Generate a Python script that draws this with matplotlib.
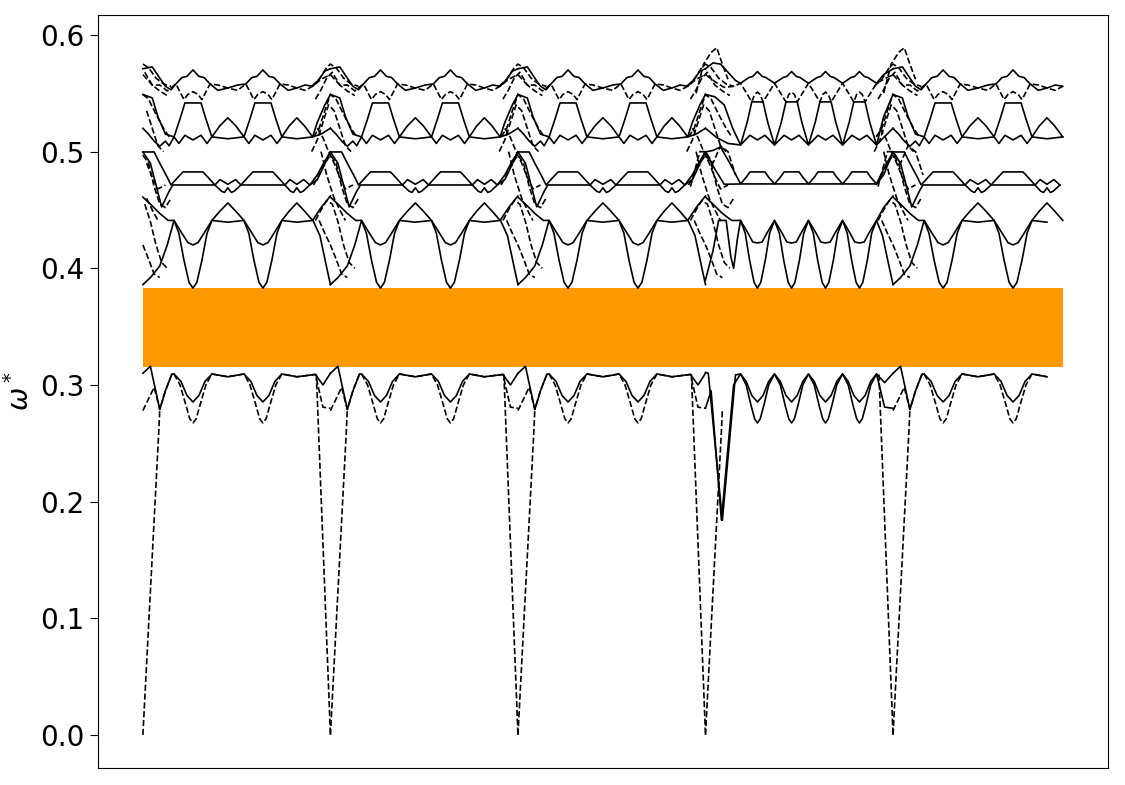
import matplotlib
matplotlib.use("Agg")
import matplotlib.pyplot as plt

# k-path: five segments, the last one is shorter
seg_lengths = [1.0, 1.0, 1.0, 1.0, 0.905]
seg_kinds = ["plain", "plain", "plain", "wide", "plain"]
gap_bottom, gap_top = 0.3155, 0.383
yticks = [0.0, 0.1, 0.2, 0.3, 0.4, 0.5, 0.6]

# ---- plain segment (u = position inside the segment, 0..1) ----
PLAIN_A_TOP = [(0, .310), (.04, .316), (.09, .279), (.12, .295), (.155, .3094),
               (.166, .3094), (.203, .303), (.235, .291), (.267, .2854), (.299, .291), (.331, .303), (.368, .3094),
               (.453, .307), (.539, .3094),
               (.576, .303), (.608, .291), (.640, .2854), (.672, .291), (.704, .303), (.741, .3094),
               (.821, .307), (.92, .309), (.96, .300), (1.0, .310)]
PLAIN_A_LOW = [(0, .278), (.06, .298), (.09, .279), (.12, .295), (.155, .3094),
               (.166, .3094), (.198, .300), (.229, .283), (.250, .271), (.267, .2674), (.284, .271), (.305, .283), (.336, .300), (.368, .3094),
               (.453, .307), (.539, .3094),
               (.571, .300), (.602, .283), (.623, .271), (.640, .2674), (.657, .271), (.678, .283), (.709, .300), (.741, .3094),
               (.821, .307), (.92, .309), (.96, .281), (1.0, .280)]
PLAIN_C_LOW = [(0, .386), (.04, .392), (.09, .402), (.13, .420), (.166, .441),
               (.192, .430), (.219, .407), (.246, .388), (.267, .383), (.288, .388), (.315, .407), (.342, .430), (.368, .441),
               (.453, .4395), (.539, .441),
               (.565, .430), (.592, .407), (.619, .388), (.640, .383), (.661, .388), (.688, .407), (.715, .430), (.741, .441),
               (.821, .4395), (.907, .441), (.944, .428), (.981, .400), (1.0, .386)]
PLAIN_C_MID = [(0, .461), (.04, .455), (.09, .447), (.135, .441), (.166, .441),
               (.208, .430), (.240, .422), (.267, .420), (.294, .422), (.326, .430), (.368, .441),
               (.411, .449), (.453, .456), (.495, .449), (.539, .441),
               (.582, .430), (.613, .422), (.640, .420), (.667, .422), (.699, .430), (.741, .441),
               (.780, .449), (.821, .456), (.862, .449), (.905, .441),
               (.950, .452), (1.0, .462)]
PLAIN_B_UP = [(0, .4997), (.06, .4997), (.09, .490), (.13, .478), (.150, .4714),
              (.187, .478), (.214, .4826), (.320, .4826), (.347, .478), (.384, .4714),
              (.411, .476), (.453, .472), (.495, .476), (.523, .4714),
              (.560, .478), (.587, .4826), (.693, .4826), (.720, .478), (.757, .4714),
              (.784, .476), (.821, .472), (.858, .476), (.890, .4714),
              (.930, .480), (.970, .492), (1.0, .4997)]
PLAIN_B_LOW = [(0, .4997), (.04, .490), (.08, .465), (.10, .4526), (.14, .466), (.16, .4714),
               (.384, .4714), (.420, .466), (.435, .465), (.453, .469), (.471, .465), (.486, .466), (.523, .4714),
               (.757, .4714), (.788, .466), (.803, .465), (.821, .469), (.839, .465), (.854, .466), (.890, .4714),
               (.930, .476), (1.0, .4997)]
PLAIN_D_UP = [(0, .549), (.05, .546), (.08, .530), (.12, .515), (.166, .5126),
              (.198, .528), (.224, .5417), (.310, .5417), (.336, .528), (.368, .5126),
              (.410, .522), (.453, .529), (.496, .522), (.539, .5126),
              (.571, .528), (.597, .5417), (.683, .5417), (.709, .528), (.741, .5126),
              (.780, .522), (.821, .529), (.862, .522), (.905, .5126),
              (.930, .525), (.970, .540), (1.0, .549)]
PLAIN_D_LOW = [(0, .520), (.03, .515), (.06, .509), (.09, .5046), (.12, .509), (.14, .505), (.166, .5126),
               (.192, .507), (.224, .514), (.267, .510), (.310, .514), (.342, .507), (.368, .5126),
               (.453, .511), (.539, .5126),
               (.565, .507), (.597, .514), (.640, .510), (.683, .514), (.715, .507), (.741, .5126),
               (.821, .511), (.905, .5126), (.950, .515), (1.0, .520)]
PLAIN_E_UP = [(0, .571), (.05, .5726), (.09, .563), (.12, .556), (.15, .553), (.176, .558),
              (.208, .5635), (.235, .5645), (.267, .570), (.299, .5645), (.326, .5635), (.358, .558),
              (.400, .5525), (.453, .5545), (.505, .5571), (.549, .558),
              (.581, .5635), (.608, .5645), (.640, .570), (.672, .5645), (.699, .5635), (.731, .558),
              (.775, .5525), (.821, .5545), (.865, .5571), (.905, .556),
              (.940, .562), (.970, .569), (1.0, .571)]
PLAIN_E_LOW = [(0, .566), (.05, .557), (.09, .5571), (.13, .552), (.176, .558),
               (.219, .5446), (.240, .549), (.267, .5514), (.294, .549), (.315, .5446), (.358, .558),
               (.400, .5571), (.453, .5545), (.505, .5525), (.549, .558),
               (.592, .5446), (.613, .549), (.640, .5514), (.667, .549), (.688, .5446), (.731, .558),
               (.775, .5571), (.821, .5545), (.865, .5525), (.905, .556),
               (.950, .562), (1.0, .566)]

# ---- the long segment with doubled period ----
WIDE_A_TOP = [(0, .3108), (.015, .310), (.09, .184), (.16, .3086), (.187, .3094),
              (.217, .303), (.247, .291), (.277, .2854), (.307, .291), (.337, .303), (.368, .3094),
              (.399, .303), (.429, .291), (.459, .2854), (.489, .291), (.519, .303), (.549, .3094),
              (.580, .303), (.610, .291), (.640, .2854), (.670, .291), (.700, .303), (.731, .3094),
              (.761, .303), (.791, .291), (.821, .2854), (.851, .291), (.881, .303), (.912, .3094),
              (.955, .302), (1.0, .310)]
WIDE_A_LOW = [(0, .280), (.03, .295), (.085, .184), (.15, .300), (.187, .3094),
              (.217, .300), (.242, .283), (.262, .271), (.277, .2674), (.292, .271), (.312, .283), (.337, .300), (.368, .3094),
              (.399, .300), (.424, .283), (.444, .271), (.459, .2674), (.474, .271), (.494, .283), (.519, .300), (.549, .3094),
              (.580, .300), (.605, .283), (.625, .271), (.640, .2674), (.655, .271), (.675, .283), (.700, .300), (.731, .3094),
              (.761, .300), (.786, .283), (.806, .271), (.821, .2674), (.836, .271), (.856, .283), (.881, .300), (.912, .3094),
              (.955, .281), (1.0, .280)]
WIDE_C_LOW = [(0, .390), (.04, .415), (.07, .441), (.11, .441), (.135, .410), (.15, .400), (.17, .425), (.187, .441),
              (.212, .430), (.235, .407), (.259, .388), (.277, .383), (.295, .388), (.319, .407), (.342, .430), (.368, .441),
              (.394, .430), (.417, .407), (.441, .388), (.459, .383), (.477, .388), (.501, .407), (.524, .430), (.549, .441),
              (.575, .430), (.598, .407), (.622, .388), (.640, .383), (.658, .388), (.682, .407), (.705, .430), (.731, .441),
              (.756, .430), (.779, .407), (.803, .388), (.821, .383), (.839, .388), (.863, .407), (.886, .430), (.912, .441),
              (.944, .428), (.981, .400), (1.0, .386)]
WIDE_C_MID = [(0, .461), (.04, .455), (.09, .447), (.14, .441), (.187, .441),
              (.227, .430), (.252, .4225), (.277, .4217), (.302, .4225), (.327, .430), (.368, .441),
              (.409, .430), (.434, .4225), (.459, .4217), (.484, .4225), (.509, .430), (.549, .441),
              (.590, .430), (.615, .4225), (.640, .4217), (.665, .4225), (.690, .430), (.731, .441),
              (.771, .430), (.796, .4225), (.821, .4217), (.846, .4225), (.871, .430), (.912, .441),
              (.950, .452), (1.0, .462)]
WIDE_B_UP = [(0, .4997), (.04, .501), (.08, .504), (.13, .490), (.187, .4723),
             (.217, .478), (.237, .4826), (.317, .4826), (.337, .478), (.368, .4723),
             (.399, .478), (.419, .4826), (.499, .4826), (.519, .478), (.549, .4723),
             (.580, .478), (.600, .4826), (.680, .4826), (.700, .478), (.731, .4723),
             (.761, .478), (.781, .4826), (.861, .4826), (.881, .478), (.912, .4723),
             (.950, .485), (1.0, .4997)]
WIDE_B_LOW = [(0, .4997), (.05, .485), (.10, .472), (.187, .4723), (.912, .4723), (.950, .480), (1.0, .4997)]
WIDE_D_UP = [(0, .549), (.05, .547), (.10, .540), (.145, .520), (.187, .5057),
             (.222, .525), (.247, .5426), (.307, .5426), (.332, .525), (.368, .5057),
             (.404, .525), (.429, .5426), (.489, .5426), (.514, .525), (.549, .5057),
             (.585, .525), (.610, .5426), (.670, .5426), (.695, .525), (.731, .5057),
             (.766, .525), (.791, .5426), (.851, .5426), (.876, .525), (.912, .5057),
             (.950, .530), (1.0, .549)]
WIDE_D_LOW = [(0, .520), (.06, .512), (.12, .507), (.187, .5057),
              (.237, .514), (.277, .510), (.317, .514), (.368, .5057),
              (.419, .514), (.459, .510), (.499, .514), (.549, .5057),
              (.600, .514), (.640, .510), (.680, .514), (.731, .5057),
              (.781, .514), (.821, .510), (.861, .514), (.912, .5057),
              (.950, .512), (1.0, .520)]
WIDE_E_UP = [(0, .571), (.04, .576), (.08, .575), (.12, .568), (.16, .561), (.187, .5586),
             (.232, .5635), (.252, .5645), (.277, .5686), (.302, .5645), (.322, .5635), (.368, .5586),
             (.414, .5635), (.434, .5645), (.459, .5686), (.484, .5645), (.504, .5635), (.549, .5586),
             (.595, .5635), (.615, .5645), (.640, .5686), (.665, .5645), (.685, .5635), (.731, .5586),
             (.776, .5635), (.796, .5645), (.821, .5686), (.846, .5645), (.866, .5635), (.912, .5586),
             (.950, .566), (1.0, .571)]
WIDE_E_LOW = [(0, .566), (.05, .560), (.10, .555), (.15, .556), (.187, .5586),
              (.247, .5426), (.262, .549), (.277, .551), (.292, .549), (.307, .5426), (.368, .5586),
              (.429, .5426), (.444, .549), (.459, .551), (.474, .549), (.489, .5426), (.549, .5586),
              (.610, .5426), (.625, .549), (.640, .551), (.655, .549), (.670, .5426), (.731, .5586),
              (.791, .5426), (.806, .549), (.821, .551), (.836, .549), (.851, .5426), (.912, .5586),
              (.950, .562), (1.0, .566)]

bands = {
    "plain": [(PLAIN_A_TOP, "-"), (PLAIN_A_LOW, "--"), (PLAIN_C_LOW, "-"), (PLAIN_C_MID, "-"),
              (PLAIN_B_UP, "-"), (PLAIN_B_LOW, "-"), (PLAIN_D_UP, "-"), (PLAIN_D_LOW, "-"),
              (PLAIN_E_UP, "-"), (PLAIN_E_LOW, "--")],
    "wide": [(WIDE_A_TOP, "-"), (WIDE_A_LOW, "-"), (WIDE_C_LOW, "-"), (WIDE_C_MID, "-"),
             (WIDE_B_UP, "-"), (WIDE_B_LOW, "-"), (WIDE_D_UP, "-"), (WIDE_D_LOW, "-"),
             (WIDE_E_UP, "-"), (WIDE_E_LOW, "--")],
}

# dashed branches that cross near each high-symmetry point (du = offset from the point)
ACOUSTIC_LEFT = [(-.075, .309), (0.0, 0.0)]
ACOUSTIC_RIGHT = [(0.0, 0.0), (.085, .261), (.09, .279)]
JUNCTIONS = [
    [(-.10, .556), (-.06, .562), (-.02, .572), (0.0, .575), (.03, .572), (.07, .563), (.11, .558), (.15, .556)],
    [(-.08, .545), (-.05, .553), (-.02, .563), (.01, .568), (.05, .557), (.09, .552), (.13, .548)],
    [(-.09, .5126), (-.06, .520), (-.03, .535), (0.0, .549), (.03, .545), (.07, .532), (.11, .520), (.14, .5126)],
    [(-.07, .520), (-.04, .512), (-.01, .500), (.02, .490), (.05, .478), (.08, .468), (.12, .4714)],
    [(-.09, .4714), (-.06, .480), (-.03, .490), (0.0, .497), (.03, .490), (.06, .470), (.09, .455), (.12, .452), (.15, .460)],
    [(-.08, .441), (-.05, .450), (-.02, .458), (.01, .455), (.04, .440), (.07, .420), (.10, .405), (.13, .400)],
    [(-.06, .441), (-.03, .430), (0.0, .420), (.03, .408), (.06, .395), (.09, .392)],
    [(-.10, .500), (-.07, .510), (-.04, .525), (-.01, .540), (.02, .535), (.05, .520), (.08, .505), (.11, .500)],
    [(-.05, .500), (-.02, .480), (.02, .460), (.05, .450), (.08, .441)],
]
JUNCTION_WIDE = [
    [(-.05, .550), (-.01, .575), (.03, .585), (.06, .589), (.09, .575), (.12, .562)],
    [(-.08, .470), (-.03, .500), (0.0, .500), (.04, .490), (.08, .505), (.12, .500), (.16, .480)],
]

fig = plt.figure(figsize=(11.25, 7.85), dpi=100)
ax = fig.add_axes([0.087, 0.0217, 0.898, 0.9592])

ends = [sum(seg_lengths[:i + 1]) for i in range(len(seg_lengths))]
starts = [e - l for e, l in zip(ends, seg_lengths)]
ax.fill_between([0, ends[-1]], gap_bottom, gap_top, color="#ff9900", lw=0, zorder=1)

lw = 1.2
for s0, length, kind in zip(starts, seg_lengths, seg_kinds):
    for pts, style in bands[kind]:
        xs = [s0 + u for u, w in pts if u <= length + 1e-9]
        ys = [w for u, w in pts if u <= length + 1e-9]
        ax.plot(xs, ys, style, color="black", lw=lw, zorder=3)

for k in starts:
    extra = JUNCTIONS + (JUNCTION_WIDE if k in (3.0, 4.0) else [])
    lines = extra + [ACOUSTIC_LEFT, ACOUSTIC_RIGHT]
    for pts in lines:
        sel = [(u, w) for u, w in pts if u >= 0 or k > 0]
        if len(sel) < 2:
            continue
        ax.plot([k + u for u, w in sel], [w for u, w in sel], "--", color="black", lw=lw, zorder=3)

ax.set_xlim(-0.24, 5.147)
ax.set_ylim(-0.0283, 0.6171)
ax.set_xticks([])
ax.set_yticks(yticks)
ax.set_yticklabels([f"{t:.1f}" for t in yticks])
ax.tick_params(axis="y", labelsize=20, length=6)
ax.set_ylabel(r"$\omega^*$", fontsize=20)

fig.savefig("out.png", dpi=100)
